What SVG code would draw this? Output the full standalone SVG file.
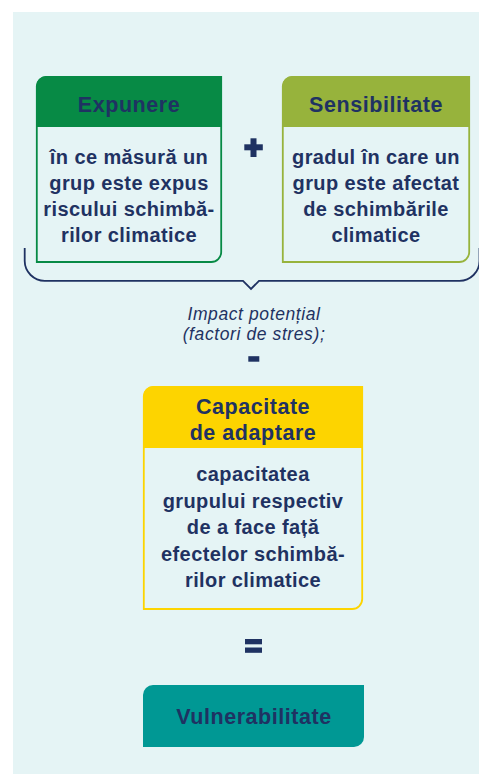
<svg xmlns="http://www.w3.org/2000/svg" width="479" height="774" viewBox="0 0 479 774">
<style>
.bg{fill:#E5F4F5}
.t{font-family:"Liberation Sans",Arial,sans-serif;fill:#1F3262;text-anchor:middle}
.h{font-size:21.5px;font-weight:bold;letter-spacing:0.55px}
.b{font-size:20px;font-weight:bold;letter-spacing:0.4px}
.i{font-size:17.5px;font-style:italic;letter-spacing:0.6px}
.op{fill:#1F3262}
</style>
<rect x="0" y="0" width="479" height="774" fill="#ffffff"/>
<rect class="bg" x="13" y="12" width="466" height="762"/>
<g id="expunere">
<path d="M36.8,86 A10,10 0 0 1 46.8,77 H221.2 V252 A10,10 0 0 1 211.2,262 H36.8 Z" fill="#E5F4F5" stroke="#078A45" stroke-width="1.8"/>
<path d="M36,86 A10,10 0 0 1 46,76 H222 V127 H36 Z" fill="#078A45"/>
<text class="t h" x="129" y="111.5">Expunere</text>
<text class="t b" x="129" y="163.5">în ce măsură un</text>
<text class="t b" x="129" y="189.5">grup este expus</text>
<text class="t b" x="129" y="215.5">riscului schimbă-</text>
<text class="t b" x="129" y="241.5">rilor climatice</text>
</g>
<g id="sensibilitate">
<path d="M282.8,86 A10,10 0 0 1 292.8,77 H469.2 V252 A10,10 0 0 1 459.2,262 H282.8 Z" fill="#E5F4F5" stroke="#97B33C" stroke-width="1.8"/>
<path d="M282,86 A10,10 0 0 1 292,76 H470 V127 H282 Z" fill="#97B33C"/>
<text class="t h" x="376" y="111.5">Sensibilitate</text>
<text class="t b" x="376" y="163.5">gradul în care un</text>
<text class="t b" x="376" y="189.5">grup este afectat</text>
<text class="t b" x="376" y="215.5">de schimbările</text>
<text class="t b" x="376" y="241.5">climatice</text>
</g>
<g id="capacitate">
<path d="M143.8,396 A10,10 0 0 1 153.8,387 H362.2 V599 A10,10 0 0 1 352.2,609 H143.8 Z" fill="#E5F4F5" stroke="#FDD400" stroke-width="1.8"/>
<path d="M143,396 A10,10 0 0 1 153,386 H363 V448 H143 Z" fill="#FDD400"/>
<text class="t h" x="253" y="413.5">Capacitate</text>
<text class="t h" x="253" y="439.5">de adaptare</text>
<text class="t b" x="253" y="481">capacitatea</text>
<text class="t b" x="253" y="507.5">grupului respectiv</text>
<text class="t b" x="253" y="534">de a face față</text>
<text class="t b" x="253" y="560.5">efectelor schimbă-</text>
<text class="t b" x="253" y="587">rilor climatice</text>
</g>
<g id="vulnerabilitate">
<path d="M143,695 A10,10 0 0 1 153,685 H364 V737 A10,10 0 0 1 354,747 H143 Z" fill="#009894"/>
<text class="t h" x="254" y="724">Vulnerabilitate</text>
</g>
<g id="impact">
<text class="t i" x="254" y="319.5">Impact potențial</text>
<text class="t i" x="254" y="340">(factori de stres);</text>
</g>
<g id="connectors">
<path d="M24.7,248 V261 A20,20 0 0 0 44.7,280.8 H243 L251,289 L259,280.8 H459.5 A20,20 0 0 0 479.5,261 V248" fill="none" stroke="#1F3262" stroke-width="1.8"/>
<rect class="op" x="244.3" y="144.3" width="18.5" height="6"/>
<rect class="op" x="250.5" y="138.3" width="6" height="18.7"/>
<rect class="op" x="248.3" y="356.2" width="11" height="5.5"/>
<rect class="op" x="245" y="639" width="17" height="5.3"/>
<rect class="op" x="245" y="647.5" width="17" height="5.3"/>
</g>
</svg>
